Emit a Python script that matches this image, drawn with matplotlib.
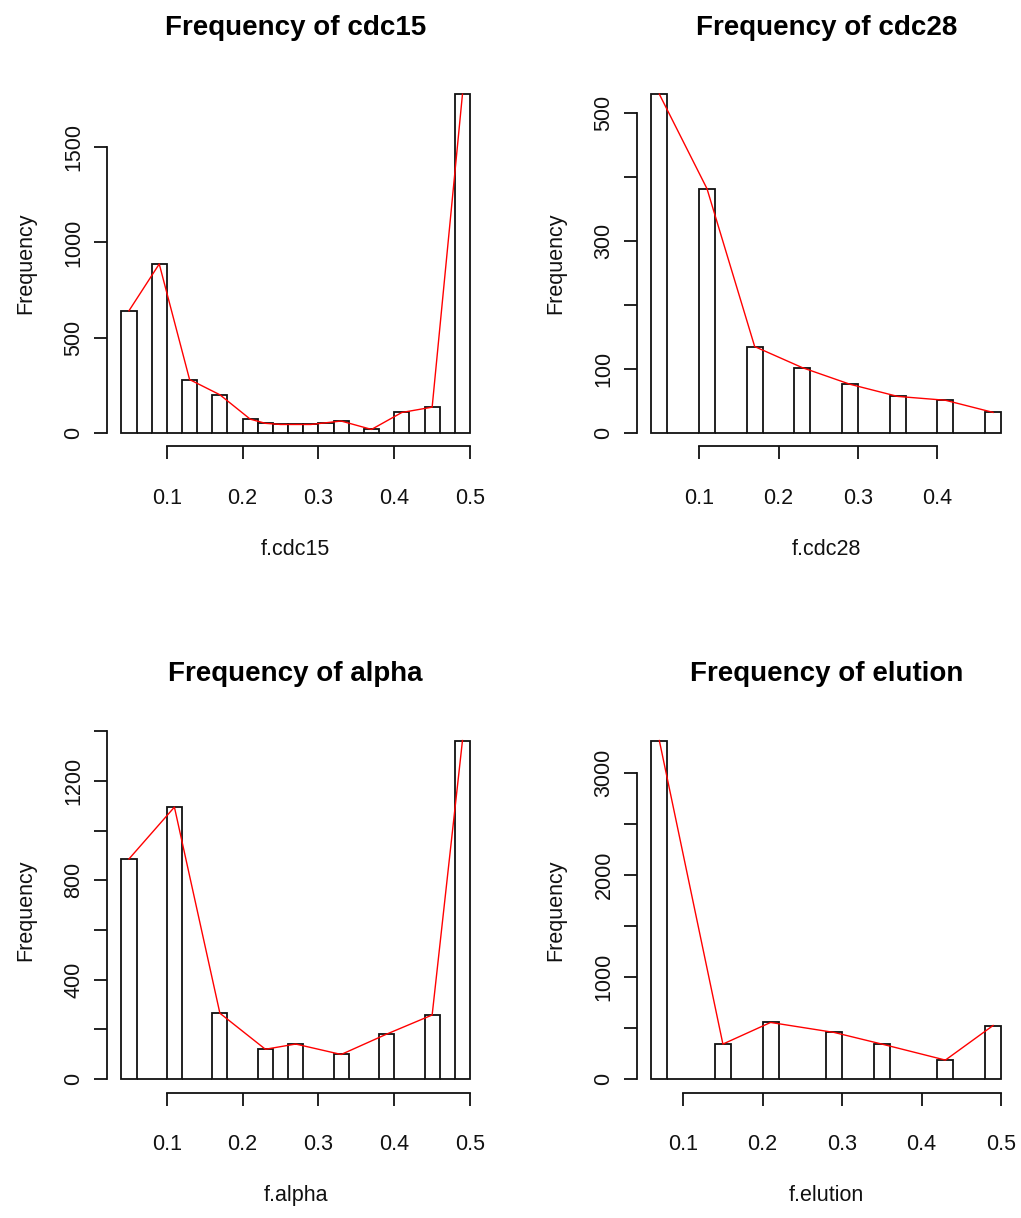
import numpy as np
import matplotlib
matplotlib.use("Agg")
import matplotlib.pyplot as plt

plt.rcParams['font.family'] = ['Liberation Sans', 'DejaVu Sans']

# ---- data (histogram counts per bin, bin width 0.02) ----
bin_width = 0.02

cdc15_start = 0.04
cdc15_counts = [641, 0, 887, 0, 280, 0, 200, 0, 72, 50, 44, 44, 44, 53, 62, 0,
                18, 0, 107, 0, 135, 0, 1779]
cdc15_xticks = [0.1, 0.2, 0.3, 0.4, 0.5]
cdc15_yticks = [0, 500, 1000, 1500]
cdc15_ylabels = ['0', '500', '1000', '1500']

cdc28_start = 0.04
cdc28_counts = [530, 0, 0, 382, 0, 0, 135, 0, 0, 102, 0, 0, 76, 0, 0, 57, 0, 0,
                51, 0, 0, 32]
cdc28_xticks = [0.1, 0.2, 0.3, 0.4]
cdc28_yticks = [0, 100, 200, 300, 400, 500]
cdc28_ylabels = ['0', '100', '', '300', '', '500']

alpha_start = 0.04
alpha_counts = [886, 0, 0, 1095, 0, 0, 265, 0, 0, 120, 0, 141, 0, 0, 99, 0, 0,
                181, 0, 0, 258, 0, 1363]
alpha_xticks = [0.1, 0.2, 0.3, 0.4, 0.5]
alpha_yticks = [0, 200, 400, 600, 800, 1000, 1200, 1400]
alpha_ylabels = ['0', '', '400', '', '800', '', '1200', '']

elution_start = 0.06
elution_counts = [3319, 0, 0, 0, 343, 0, 0, 555, 0, 0, 0, 457, 0, 0, 343, 0, 0,
                  0, 186, 0, 0, 525]
elution_xticks = [0.1, 0.2, 0.3, 0.4, 0.5]
elution_yticks = [0, 500, 1000, 1500, 2000, 2500, 3000]
elution_ylabels = ['0', '', '1000', '', '2000', '', '3000']

names = ['cdc15', 'cdc28', 'alpha', 'elution']

W, H = 1021, 1218
fig = plt.figure(figsize=(W / 100, H / 100), dpi=100)

# plot regions in pixels (left, top, right, bottom)
cols = [(107.4, 484.0), (637.4, 1015.0)]
rows = [(80.6, 446.4), (727.0, 1092.6)]


def px_axes(col, row):
    x0, x1 = cols[col]
    y0, y1 = rows[row]
    return fig.add_axes([x0 / W, 1 - y1 / H, (x1 - x0) / W, (y1 - y0) / H])


def draw_hist(ax, start, counts, xticks, yticks, ylabels):
    counts = np.array(counts, dtype=float)
    lefts = start + bin_width * np.arange(len(counts))
    ax.bar(lefts, counts, width=bin_width, align='edge', facecolor='white',
           edgecolor='#111111', linewidth=1.3, zorder=2)
    # red frequency polygon through the non-empty bins
    nz = counts > 0
    ax.plot(lefts[nz] + bin_width / 2, counts[nz], color='red', lw=1.0, zorder=3)

    lo, hi = lefts[0], lefts[-1] + bin_width
    r = hi - lo
    ax.set_xlim(lo - 0.04 * r, hi + 0.04 * r)
    ymax = counts.max()
    ax.set_ylim(-0.04 * ymax, 1.04 * ymax)

    for s in ['top', 'right']:
        ax.spines[s].set_visible(False)
    ax.spines['left'].set_bounds(yticks[0], yticks[-1])
    ax.spines['bottom'].set_bounds(xticks[0], xticks[-1])
    for s in ['left', 'bottom']:
        ax.spines[s].set_linewidth(1.3)
        ax.spines[s].set_color('#111111')

    ax.set_xticks(xticks)
    ax.set_xticklabels(['%.1f' % v for v in xticks])
    ax.set_yticks(yticks)
    ax.set_yticklabels(ylabels)
    ax.tick_params(direction='out', length=9.4, width=1.3, color='#111111',
                   labelsize=15.5, labelcolor='#111111')
    ax.tick_params(axis='x', pad=20.5)
    ax.tick_params(axis='y', pad=7.0)
    plt.setp(ax.get_yticklabels(), rotation=90, va='center')


data = [
    (cdc15_start, cdc15_counts, cdc15_xticks, cdc15_yticks, cdc15_ylabels),
    (cdc28_start, cdc28_counts, cdc28_xticks, cdc28_yticks, cdc28_ylabels),
    (alpha_start, alpha_counts, alpha_xticks, alpha_yticks, alpha_ylabels),
    (elution_start, elution_counts, elution_xticks, elution_yticks, elution_ylabels),
]

for i, name in enumerate(names):
    col, row = i % 2, i // 2
    ax = px_axes(col, row)
    draw_hist(ax, *data[i])

    x0, x1 = cols[col]
    y0, y1 = rows[row]
    xc = (x0 + x1) / 2
    dy = y0 - rows[0][0]
    fig.text(xc / W, 1 - (35 + dy) / H, 'Frequency of ' + name, ha='center',
             va='baseline', fontsize=20, fontweight='bold', color='black')
    fig.text(xc / W, 1 - (555 + dy) / H, 'f.' + name, ha='center',
             va='baseline', fontsize=15.5, color='#111111')
    fig.text((x0 - 75.7) / W, 1 - ((y0 + y1) / 2) / H, 'Frequency',
             ha='center', va='baseline', rotation=90, rotation_mode='anchor',
             fontsize=15.5, color='#111111')

fig.savefig('out.png', dpi=100, facecolor='white')
